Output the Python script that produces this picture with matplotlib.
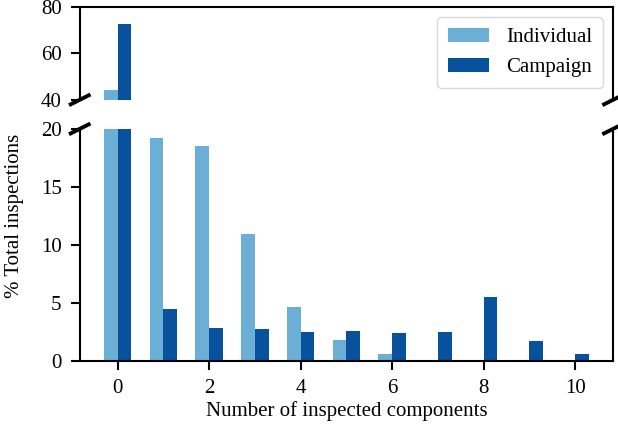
import matplotlib
matplotlib.use("Agg")
import matplotlib.pyplot as plt
import numpy as np

# data
components = [0, 1, 2, 3, 4, 5, 6, 7, 8, 9, 10]
individual = [44.3, 19.2, 18.5, 10.95, 4.66, 1.8, 0.6, 0.1, 0.0, 0.0, 0.0]
campaign = [72.7, 4.48, 2.84, 2.76, 2.5, 2.6, 2.4, 2.5, 5.5, 1.7, 0.6]

c_ind = "#6baed6"
c_camp = "#08519c"

plt.rcParams["font.family"] = ["Liberation Serif", "DejaVu Serif"]
plt.rcParams["font.size"] = 15

fig = plt.figure(figsize=(6.18, 4.34), dpi=100)
ax_top = fig.add_axes([0.129, 0.770, 0.863, 0.214])
ax_bot = fig.add_axes([0.129, 0.168, 0.863, 0.535])

x = np.array(components)
w = 0.3
for ax in (ax_top, ax_bot):
    ax.bar(x - w / 2, individual, w, color=c_ind, label="Individual")
    ax.bar(x + w / 2, campaign, w, color=c_camp, label="Campaign")
    ax.tick_params(direction="out", length=6.5, width=1.5, pad=6.5, labelsize=15)
    for s in ax.spines.values():
        s.set_linewidth(1.5)

ax_top.set_ylim(40, 80)
ax_top.set_yticks([40, 60, 80])
ax_bot.set_ylim(0, 20)
ax_bot.set_yticks([0, 5, 10, 15, 20])
ax_top.set_xlim(ax_bot.get_xlim())

ax_top.spines["bottom"].set_visible(False)
ax_top.tick_params(axis="x", bottom=False, labelbottom=False)
ax_bot.spines["top"].set_visible(False)
ax_bot.set_xticks([0, 2, 4, 6, 8, 10])

# break marks: about 18 px wide, 9 px tall
fig.canvas.draw()
for ax, yy in ((ax_top, 0), (ax_bot, 1)):
    bb = ax.get_window_extent()
    dx = 9 / bb.width
    dy = 4.5 / bb.height
    for xx in (0, 1):
        ax.plot([xx - dx, xx + dx], [yy - dy, yy + dy], transform=ax.transAxes,
                color="k", lw=2.8, clip_on=False)

ax_top.legend(loc="upper right", fancybox=True, framealpha=1,
              edgecolor="#d9d9d9", handlelength=2.0, handletextpad=0.8,
              borderpad=0.5, fontsize=15)

ax_bot.set_xlabel("Number of inspected components", fontsize=15, labelpad=2)
fig.text(0.024, 0.502, "% Total inspections", rotation=90, va="center",
         ha="center", fontsize=15)

fig.savefig("out.png", dpi=100)
